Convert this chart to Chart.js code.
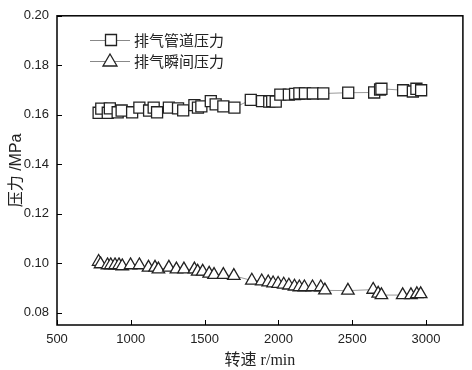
<!DOCTYPE html>
<html>
<head>
<meta charset="utf-8">
<script src="https://cdn.jsdelivr.net/npm/chart.js@4"></script>
<style>
  body { margin: 0; background: #fff; }
  #wrap { width: 472px; height: 370px; }
</style>
</head>
<body>
<div id="wrap"><canvas id="pressureChart"></canvas></div>
<script>
// rotation speed (r/min) and pressure (MPa)
const rpmDuct = [782, 800, 844, 858, 911, 938, 1009, 1058, 1124, 1155, 1178, 1258, 1320, 1355, 1431, 1455, 1478, 1542, 1575, 1627, 1702, 1813, 1889, 1938, 1958, 1982, 2013, 2071, 2113, 2142, 2180, 2233, 2304, 2473, 2649, 2689, 2698, 2845, 2911, 2935, 2967];
const pDuct = [0.1608, 0.1625, 0.1608, 0.1626, 0.1610, 0.1617, 0.1610, 0.1629, 0.1617, 0.1629, 0.1610, 0.1629, 0.1626, 0.1618, 0.1639, 0.1629, 0.1634, 0.1655, 0.1642, 0.1634, 0.1629, 0.1660, 0.1655, 0.1653, 0.1655, 0.1653, 0.1681, 0.1681, 0.1684, 0.1686, 0.1686, 0.1686, 0.1686, 0.1689, 0.1690, 0.1702, 0.1705, 0.1699, 0.1694, 0.1705, 0.1699];

const rpmInst = [782, 795, 842, 864, 893, 920, 942, 998, 1058, 1120, 1164, 1187, 1258, 1309, 1360, 1431, 1453, 1487, 1531, 1564, 1627, 1698, 1820, 1887, 1931, 1964, 1998, 2036, 2071, 2109, 2142, 2176, 2231, 2287, 2315, 2471, 2642, 2676, 2698, 2842, 2898, 2938, 2964];
const pInst = [0.1006, 0.0996, 0.0992, 0.0992, 0.0992, 0.0992, 0.0988, 0.0992, 0.0992, 0.0982, 0.0982, 0.0975, 0.0982, 0.0975, 0.0975, 0.0975, 0.0966, 0.0966, 0.0958, 0.0953, 0.0953, 0.0949, 0.0930, 0.0927, 0.0923, 0.0919, 0.0917, 0.0914, 0.0910, 0.0906, 0.0903, 0.0903, 0.0903, 0.0903, 0.0890, 0.0889, 0.0893, 0.0877, 0.0871, 0.0871, 0.0871, 0.0875, 0.0875];

const seriesNames = ['排气管道压力', '排气瞬间压力'];
const xTicks = [500, 1000, 1500, 2000, 2500, 3000];
const yTicks = [0.08, 0.10, 0.12, 0.14, 0.16, 0.18, 0.20];

const toPoints = (xs, ys) => xs.map((x, i) => ({ x: x, y: ys[i] }));

// frame + inward ticks, like the origin-style plot
const framePlugin = {
    id: 'frame',
    afterDraw(chart) {
        const { ctx, chartArea: a, scales } = chart;
        ctx.save();
        ctx.strokeStyle = '#000';
        ctx.lineWidth = 1.5;
        ctx.strokeRect(a.left, a.top, a.right - a.left, a.bottom - a.top);
        ctx.lineWidth = 1;
        ctx.beginPath();
        xTicks.forEach(v => {
            const px = Math.round(scales.x.getPixelForValue(v)) + 0.5;
            ctx.moveTo(px, a.bottom);
            ctx.lineTo(px, a.bottom - 5);
        });
        yTicks.forEach(v => {
            const py = Math.round(scales.y.getPixelForValue(v)) + 0.5;
            ctx.moveTo(a.left, py);
            ctx.lineTo(a.left + 5, py);
        });
        ctx.stroke();
        ctx.restore();
    }
};

// legend with line sample and marker
const legendPlugin = {
    id: 'lineLegend',
    afterDraw(chart) {
        const ctx = chart.ctx;
        const items = [
            { y: 40, style: 'rect' },
            { y: 61, style: 'triangle' }
        ];
        ctx.save();
        items.forEach((it, i) => {
            ctx.strokeStyle = '#888';
            ctx.lineWidth = 1;
            ctx.beginPath();
            ctx.moveTo(90, it.y + 0.5);
            ctx.lineTo(130, it.y + 0.5);
            ctx.stroke();
            ctx.strokeStyle = '#222';
            ctx.fillStyle = '#fff';
            ctx.lineWidth = 1.3;
            ctx.beginPath();
            if (it.style === 'rect') {
                ctx.rect(105.5, it.y - 5.5, 11, 11);
            } else {
                ctx.moveTo(110, it.y - 7);
                ctx.lineTo(117, it.y + 5);
                ctx.lineTo(103, it.y + 5);
                ctx.closePath();
            }
            ctx.fill();
            ctx.stroke();
            ctx.fillStyle = '#222';
            ctx.font = '15px "Noto Sans CJK SC"';
            ctx.textBaseline = 'middle';
            ctx.fillText(seriesNames[i], 134, it.y);
        });
        ctx.restore();
    }
};

new Chart(document.getElementById('pressureChart'), {
    type: 'scatter',
    data: {
        datasets: [
            {
                label: seriesNames[0],
                data: toPoints(rpmDuct, pDuct),
                showLine: true,
                borderColor: '#999',
                borderWidth: 1,
                pointStyle: 'rect',
                pointRadius: 7.8,
                pointBorderColor: '#222',
                pointBackgroundColor: '#fff',
                pointBorderWidth: 1.3
            },
            {
                label: seriesNames[1],
                data: toPoints(rpmInst, pInst),
                showLine: true,
                borderColor: '#999',
                borderWidth: 1,
                pointStyle: 'triangle',
                pointRadius: 7.2,
                pointBorderColor: '#222',
                pointBackgroundColor: '#fff',
                pointBorderWidth: 1.3
            }
        ]
    },
    options: {
        responsive: true,
        maintainAspectRatio: false,
        animation: false,
        layout: { padding: { top: 6, right: 2, left: 0, bottom: 0 } },
        plugins: {
            legend: { display: false },
            tooltip: { enabled: false }
        },
        scales: {
            x: {
                type: 'linear',
                min: 500,
                max: 3250,
                grid: { display: false, drawTicks: false },
                border: { display: false },
                afterFit: s => { s.height = 45; },
                afterBuildTicks: s => { s.ticks = xTicks.map(v => ({ value: v })); },
                ticks: {
                    color: '#222',
                    padding: 7,
                    callback: v => String(v),
                    font: { family: '"Liberation Sans", Arial', size: 13 }
                },
                title: {
                    display: true,
                    text: '转速 r/min',
                    color: '#222',
                    padding: { top: 4, bottom: 0 },
                    font: { family: '"Liberation Serif", "Noto Sans CJK SC"', size: 16 }
                }
            },
            y: {
                min: 0.075,
                max: 0.20,
                grid: { display: false, drawTicks: false },
                border: { display: false },
                afterFit: s => { s.width = 57; },
                afterBuildTicks: s => { s.ticks = yTicks.map(v => ({ value: v })); },
                ticks: {
                    color: '#222',
                    padding: 8,
                    callback: v => v.toFixed(2),
                    font: { family: '"Liberation Sans", Arial', size: 13 }
                },
                title: {
                    display: true,
                    text: '压力 /MPa',
                    color: '#222',
                    padding: { top: 7, bottom: 7 },
                    font: { family: '"Liberation Sans", "Noto Sans CJK SC"', size: 16 }
                }
            }
        }
    },
    plugins: [framePlugin, legendPlugin]
});
</script>
</body>
</html>
